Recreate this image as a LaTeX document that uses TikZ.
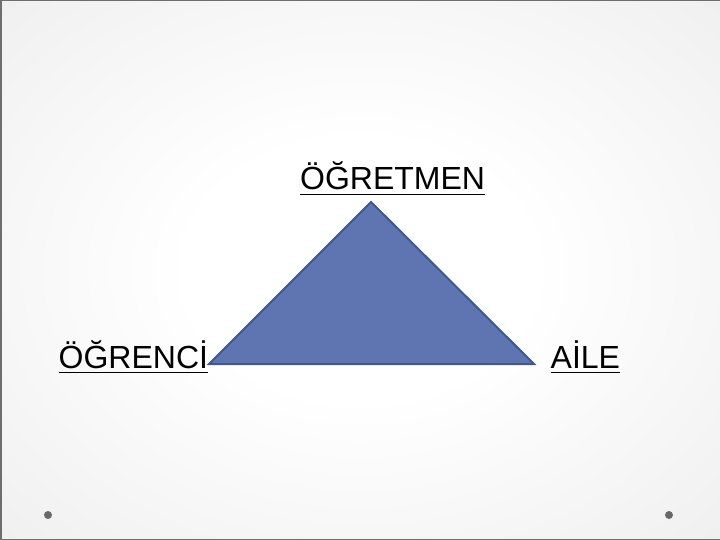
\documentclass[tikz,border=0pt]{standalone}
\usepackage{fontspec}
\setmainfont{Liberation Sans}
\definecolor{trifill}{RGB}{94,117,178}
\definecolor{triedge}{RGB}{66,88,140}
\definecolor{bgedge}{RGB}{222,222,222}
\definecolor{framecol}{RGB}{110,110,110}
\definecolor{dotcol}{RGB}{105,105,105}
\pgfdeclareradialshading{slidebg}{\pgfpoint{0bp}{0bp}}{color(0bp)=(white); color(12bp)=(white); color(50bp)=(bgedge!75!white); color(71bp)=(bgedge)}
\tikzset{
  lbl/.style={anchor=base west, inner sep=0pt, font=\fontsize{32}{38}\selectfont, text=black},
  uline/.style={line width=1.8pt, black},
  tri/.style={fill=trifill, draw=triedge, line width=2pt, line join=miter},
  bullet/.style={circle, fill=dotcol, inner sep=0pt, minimum size=8pt}
}
\begin{document}
\begin{tikzpicture}[x=1pt,y=-1pt]
\useasboundingbox (0,0) rectangle (720,540);
\shade[shading=slidebg] (0,0) rectangle (720,540);
\draw[framecol, line width=1.5pt] (720,0.75) -- (0.75,0.75) -- (0.75,539.25) -- (720,539.25);
% triangle
\coordinate (apex) at (371,202);
\coordinate (bl) at (209,364);
\coordinate (br) at (534,364);
\draw[tri] (apex) -- (bl) -- (br) -- cycle;
% labels
\node[lbl] (ogretmen) at (300,190) {ÖĞRETMEN};
\node[lbl] (ogrenci) at (58.5,368) {ÖĞRENCİ};
\node[lbl] (aile) at (550.5,368) {AİLE};
\draw[uline] ([yshift=-4.5pt]ogretmen.base west) -- ([yshift=-4.5pt]ogretmen.base east);
\draw[uline] ([yshift=-4.5pt]ogrenci.base west) -- ([yshift=-4.5pt]ogrenci.base east);
\draw[uline] ([yshift=-4.5pt]aile.base west) -- ([yshift=-4.5pt]aile.base east);
% bullets
\node[bullet] (dotl) at (48,515) {};
\node[bullet] (dotr) at (669,515) {};
\end{tikzpicture}
\end{document}
